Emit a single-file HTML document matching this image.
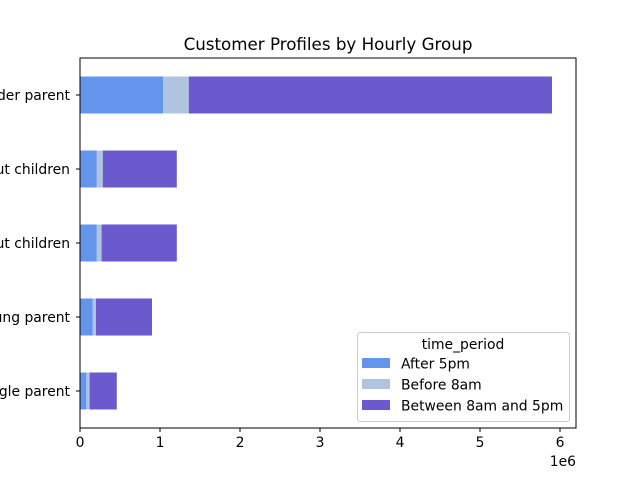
<!DOCTYPE html>
<html><head><meta charset="utf-8"><style>
body{margin:0;background:#fff}
svg{font-family:"DejaVu Sans","Liberation Sans",sans-serif;display:block}
</style></head><body>
<svg id="chart" width="640" height="480" viewBox="0 0 640 480">
<rect width="640" height="480" fill="#fff"/>
<text x="328" y="50" text-anchor="middle" font-size="16.7">Customer Profiles by Hourly Group</text>
<g id="bars"></g>
<g id="axes"></g>
<text x="576" y="466" text-anchor="end" font-size="13.9">1e6</text>
<g>
<rect x="357.5" y="332.5" width="212" height="89" rx="3" fill="#fff" fill-opacity="0.8" stroke="#ccc"/>
<text x="463" y="349" text-anchor="middle" font-size="13.9">time_period</text>
<g id="legend-entries"></g>
</g>
</svg>
<script>
const categories=["Family with single parent","Family with young parent","Single adult without children","Couple without children","Family with older parent"];
const series=["After 5pm","Before 8am","Between 8am and 5pm"];
const colors=["#6495ED","#B0C4DE","#6A5ACD"];
const after5=[0.08e6,0.16e6,0.21e6,0.21e6,1.04e6];
const before8=[0.04e6,0.04e6,0.06e6,0.075e6,0.32e6];
const between=[0.34e6,0.70e6,0.94e6,0.925e6,4.54e6];
const xTicks=[0,1,2,3,4,5,6];
const vals=[after5,before8,between];
const NS="http://www.w3.org/2000/svg";
const L=80,R=576,T=58,B=428;
const xs=v=>L+v/1e6*80;
const step=(B-T)/categories.length;
const yc=i=>B-step*(i+0.5);
const bh=step*0.5;
function mk(t,a,p){const e=document.createElementNS(NS,t);for(const k in a)e.setAttribute(k,a[k]);(p).appendChild(e);return e;}
const bars=document.getElementById('bars');
categories.forEach((c,i)=>{let acc=0;vals.forEach((s,j)=>{
const r=mk('rect',{x:xs(acc),y:yc(i)-bh/2,width:xs(acc+s[i])-xs(acc),height:bh,fill:colors[j]},bars);


acc+=s[i];});});
const ax=document.getElementById('axes');
const sp=mk('rect',{x:L,y:T,width:R-L,height:B-T,fill:'none',stroke:'#000','stroke-width':1},ax);


xTicks.forEach(t=>{const x=xs(t*1e6);
mk('line',{x1:x,x2:x,y1:B,y2:B+4,stroke:'#000'},ax);
const tx=mk('text',{x:x,y:B+19,'text-anchor':'middle','font-size':13.9},ax);tx.textContent=t;

});
categories.forEach((c,i)=>{const y=yc(i);
mk('line',{x1:L-4,x2:L,y1:y,y2:y,stroke:'#000'},ax);
const tx=mk('text',{x:70,y:y+5,'text-anchor':'end','font-size':13.9},ax);tx.textContent=c;

});
const le=document.getElementById('legend-entries');
series.forEach((s,j)=>{const y=358+j*21;
const r=mk('rect',{x:362,y:y,width:28,height:10,fill:colors[j]},le);


const t=mk('text',{x:401,y:y+10.5,'font-size':13.9},le);t.textContent=s;

});
</script>
</body></html>
